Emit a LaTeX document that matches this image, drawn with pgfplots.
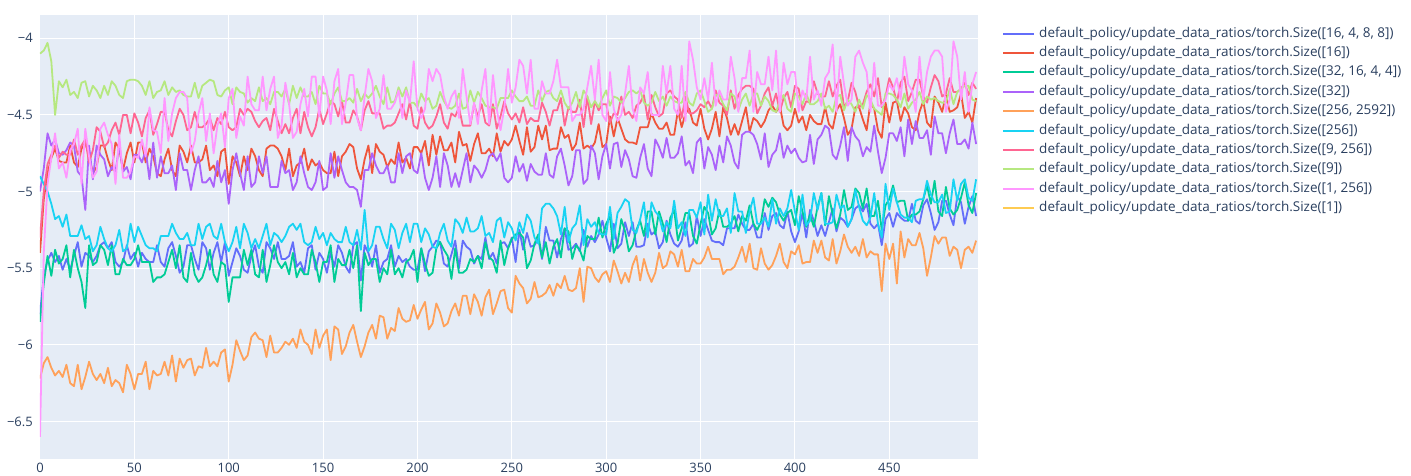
\documentclass[border=0pt]{standalone}
\usepackage{fontspec}
\setmainfont{Open Sans}
\usepackage{pgfplots}
\usepackage{pgfplotstable}
\pgfplotsset{compat=1.18}
\definecolor{bgc}{HTML}{E5ECF6}
\definecolor{txt}{HTML}{2A3F5F}
\definecolor{c1}{HTML}{636EFA}
\definecolor{c2}{HTML}{EF553B}
\definecolor{c3}{HTML}{00CC96}
\definecolor{c4}{HTML}{AB63FA}
\definecolor{c5}{HTML}{FFA15A}
\definecolor{c6}{HTML}{19D3F3}
\definecolor{c7}{HTML}{FF6692}
\definecolor{c8}{HTML}{B6E880}
\definecolor{c9}{HTML}{FF97FF}
\definecolor{c10}{HTML}{FECB52}
\pgfplotstableread{
x b r g p o c m l k
0 -5.80 -5.40 -5.85 -5.00 -6.22 -4.90 -5.30 -4.10 -6.60
2 -5.55 -5.05 -5.60 -4.85 -6.12 -4.95 -5.00 -4.08 -5.40
4 -5.45 -4.88 -5.42 -4.62 -6.08 -5.00 -4.82 -4.03 -4.95
6 -5.40 -4.78 -5.55 -4.70 -6.15 -5.08 -4.76 -4.15 -4.78
8 -5.46 -4.72 -5.38 -4.66 -6.20 -5.18 -4.70 -4.50 -4.62
10 -5.42 -4.80 -5.47 -4.75 -6.17 -5.16 -4.78 -4.28 -4.85
12 -5.51 -4.81 -5.44 -4.76 -6.21 -5.23 -4.74 -4.32 -4.81
14 -5.44 -4.81 -5.35 -4.73 -6.13 -5.15 -4.76 -4.27 -4.91
16 -5.51 -4.70 -5.56 -4.68 -6.25 -5.29 -4.76 -4.37 -4.73
18 -5.42 -4.81 -5.38 -4.70 -6.27 -5.29 -4.66 -4.35 -4.69
20 -5.33 -4.84 -5.50 -4.87 -6.13 -5.29 -4.76 -4.39 -4.59
22 -5.49 -4.72 -5.59 -4.90 -6.29 -5.22 -4.70 -4.29 -4.95
24 -5.40 -4.68 -5.76 -5.12 -6.21 -5.31 -4.66 -4.28 -4.59
26 -5.42 -4.77 -5.35 -4.70 -6.11 -5.29 -4.81 -4.38 -4.77
28 -5.46 -4.88 -5.48 -4.92 -6.19 -5.39 -4.73 -4.31 -4.91
30 -5.42 -4.84 -5.46 -4.70 -6.23 -5.35 -4.58 -4.34 -4.87
32 -5.35 -4.70 -5.35 -4.76 -6.19 -5.23 -4.61 -4.39 -4.59
34 -5.33 -4.70 -5.38 -4.79 -6.25 -5.31 -4.71 -4.31 -4.55
36 -5.37 -4.79 -5.48 -4.90 -6.15 -5.37 -4.68 -4.37 -4.63
38 -5.33 -4.86 -5.35 -4.84 -6.27 -5.39 -4.60 -4.28 -4.69
40 -5.46 -4.68 -5.54 -4.87 -6.23 -5.35 -4.55 -4.31 -4.95
42 -5.49 -4.72 -5.54 -4.70 -6.25 -5.25 -4.63 -4.37 -4.63
44 -5.46 -4.86 -5.44 -4.87 -6.31 -5.39 -4.50 -4.39 -4.91
46 -5.35 -4.75 -5.48 -4.84 -6.13 -5.37 -4.50 -4.28 -4.91
48 -5.44 -4.68 -5.48 -4.92 -6.19 -5.21 -4.62 -4.27 -4.87
50 -5.40 -4.81 -5.44 -4.76 -6.29 -5.33 -4.49 -4.27 -4.77
52 -5.49 -4.68 -5.35 -4.76 -6.19 -5.23 -4.55 -4.28 -4.78
54 -5.40 -4.68 -5.46 -4.81 -6.19 -5.29 -4.64 -4.31 -4.66
56 -5.44 -4.81 -5.46 -4.73 -6.11 -5.35 -4.52 -4.37 -4.77
58 -5.46 -4.72 -5.46 -4.92 -6.29 -5.37 -4.47 -4.28 -4.45
60 -5.46 -4.77 -5.59 -4.68 -6.17 -5.37 -4.63 -4.39 -4.60
62 -5.35 -4.88 -5.56 -4.91 -6.20 -5.39 -4.56 -4.35 -4.61
64 -5.46 -4.90 -5.56 -4.77 -6.19 -5.29 -4.48 -4.34 -4.75
66 -5.49 -4.79 -5.54 -4.88 -6.11 -5.29 -4.48 -4.28 -4.39
68 -5.37 -4.72 -5.46 -4.88 -6.20 -5.29 -4.60 -4.37 -4.67
70 -5.33 -4.86 -5.38 -4.83 -6.07 -5.21 -4.64 -4.32 -4.49
72 -5.42 -4.90 -5.50 -4.99 -6.24 -5.27 -4.54 -4.35 -4.39
74 -5.53 -4.70 -5.35 -4.75 -6.09 -5.31 -4.46 -4.34 -4.35
76 -5.49 -4.74 -5.56 -4.86 -6.15 -5.31 -4.50 -4.37 -4.35
78 -5.35 -4.81 -5.59 -4.86 -6.10 -5.27 -4.60 -4.38 -4.39
80 -5.35 -4.70 -5.40 -4.99 -6.09 -5.35 -4.58 -4.38 -4.75
82 -5.44 -4.81 -5.54 -4.86 -6.20 -5.35 -4.48 -4.29 -4.67
84 -5.51 -4.81 -5.59 -4.77 -6.14 -5.21 -4.58 -4.39 -4.49
86 -5.33 -4.79 -5.56 -4.94 -6.15 -5.31 -4.58 -4.31 -4.39
88 -5.37 -4.70 -5.48 -4.94 -6.02 -5.23 -4.56 -4.29 -4.67
90 -5.51 -4.86 -5.38 -4.91 -6.14 -5.21 -4.52 -4.27 -4.49
92 -5.40 -4.83 -5.54 -4.97 -6.11 -5.29 -4.60 -4.28 -4.75
94 -5.33 -4.90 -5.59 -4.80 -6.14 -5.31 -4.52 -4.37 -4.57
96 -5.46 -4.74 -5.46 -4.94 -6.05 -5.21 -4.56 -4.38 -4.49
98 -5.33 -4.72 -5.48 -4.86 -6.03 -5.33 -4.48 -4.34 -4.71
100 -5.55 -4.95 -5.72 -5.08 -6.24 -5.39 -4.58 -4.32 -4.39
102 -5.46 -4.77 -5.56 -4.86 -6.13 -5.33 -4.60 -4.43 -4.33
104 -5.37 -4.81 -5.56 -4.75 -5.97 -5.23 -4.58 -4.32 -4.65
106 -5.42 -4.90 -5.56 -4.88 -6.04 -5.37 -4.46 -4.35 -4.51
108 -5.51 -4.77 -5.38 -4.99 -6.10 -5.21 -4.50 -4.36 -4.57
110 -5.53 -4.86 -5.48 -4.77 -6.07 -5.27 -4.46 -4.42 -4.25
112 -5.42 -4.72 -5.38 -4.97 -5.95 -5.37 -4.48 -4.39 -4.43
114 -5.35 -4.77 -5.54 -4.94 -5.92 -5.31 -4.54 -4.41 -4.47
116 -5.49 -4.86 -5.56 -4.77 -5.96 -5.37 -4.58 -4.32 -4.47
118 -5.53 -4.90 -5.38 -4.88 -5.97 -5.29 -4.54 -4.41 -4.25
120 -5.33 -4.72 -5.59 -4.77 -6.08 -5.21 -4.52 -4.39 -4.47
122 -5.37 -4.70 -5.48 -4.97 -5.94 -5.35 -4.60 -4.43 -4.33
124 -5.44 -4.70 -5.35 -4.97 -6.05 -5.27 -4.46 -4.35 -4.25
126 -5.33 -4.72 -5.46 -4.97 -6.05 -5.29 -4.54 -4.35 -4.65
128 -5.44 -4.77 -5.50 -4.80 -6.02 -5.33 -4.62 -4.38 -4.57
130 -5.44 -4.86 -5.46 -4.88 -5.98 -5.29 -4.56 -4.33 -4.29
132 -5.42 -4.72 -5.54 -4.86 -6.00 -5.23 -4.62 -4.43 -4.43
134 -5.33 -4.90 -5.40 -4.99 -5.96 -5.21 -4.52 -4.31 -4.65
136 -5.49 -4.83 -5.56 -4.94 -6.02 -5.25 -4.46 -4.39 -4.61
138 -5.46 -4.81 -5.50 -4.77 -5.90 -5.21 -4.62 -4.32 -4.43
140 -5.53 -4.72 -5.54 -4.88 -5.98 -5.33 -4.48 -4.38 -4.33
142 -5.37 -4.86 -5.54 -4.97 -6.00 -5.35 -4.58 -4.38 -4.51
144 -5.35 -4.79 -5.38 -4.99 -6.06 -5.33 -4.64 -4.35 -4.25
146 -5.51 -4.83 -5.46 -4.94 -5.90 -5.23 -4.58 -4.43 -4.25
148 -5.40 -4.81 -5.59 -4.80 -6.02 -5.31 -4.46 -4.31 -4.51
150 -5.44 -4.86 -5.46 -4.99 -5.94 -5.27 -4.56 -4.36 -4.25
152 -5.53 -4.88 -5.46 -4.97 -5.90 -5.35 -4.49 -4.36 -4.34
154 -5.40 -4.88 -5.35 -4.75 -6.10 -5.27 -4.41 -4.43 -4.56
156 -5.49 -4.74 -5.59 -4.91 -5.88 -5.31 -4.43 -4.36 -4.28
158 -5.35 -4.90 -5.44 -4.77 -5.90 -5.33 -4.51 -4.32 -4.20
160 -5.40 -4.77 -5.48 -4.86 -6.06 -5.33 -4.41 -4.41 -4.56
162 -5.49 -4.74 -5.48 -4.94 -6.01 -5.23 -4.55 -4.41 -4.42
164 -5.53 -4.69 -5.38 -4.97 -5.92 -5.33 -4.55 -4.39 -4.24
166 -5.35 -4.71 -5.50 -4.97 -5.87 -5.35 -4.47 -4.42 -4.24
168 -5.33 -4.85 -5.35 -4.99 -5.98 -5.25 -4.51 -4.33 -4.52
170 -5.58 -4.92 -5.78 -5.10 -6.08 -5.38 -4.60 -4.41 -4.60
172 -5.35 -4.79 -5.40 -4.86 -6.01 -5.12 -4.47 -4.36 -4.38
174 -5.40 -4.70 -5.48 -4.86 -5.92 -5.39 -4.41 -4.39 -4.20
176 -5.49 -4.88 -5.44 -4.75 -5.87 -5.35 -4.49 -4.36 -4.28
178 -5.35 -4.69 -5.44 -4.83 -5.96 -5.23 -4.49 -4.31 -4.52
180 -5.53 -4.74 -5.59 -4.88 -5.81 -5.23 -4.49 -4.38 -4.46
182 -5.46 -4.76 -5.50 -4.88 -5.82 -5.31 -4.59 -4.43 -4.24
184 -5.44 -4.84 -5.54 -4.83 -5.96 -5.37 -4.57 -4.32 -4.46
186 -5.35 -4.79 -5.38 -4.94 -5.89 -5.21 -4.57 -4.42 -4.46
188 -5.49 -4.82 -5.54 -4.94 -5.91 -5.25 -4.55 -4.41 -4.42
190 -5.42 -4.68 -5.50 -4.75 -5.76 -5.37 -4.49 -4.32 -4.34
192 -5.46 -4.81 -5.56 -4.88 -5.83 -5.27 -4.43 -4.38 -4.52
194 -5.44 -4.78 -5.46 -4.77 -5.85 -5.21 -4.53 -4.32 -4.34
196 -5.49 -4.85 -5.44 -4.75 -5.84 -5.33 -4.41 -4.42 -4.42
198 -5.51 -4.71 -5.38 -4.86 -5.74 -5.21 -4.57 -4.42 -4.15
200 -5.51 -4.71 -5.59 -4.88 -5.83 -5.21 -4.59 -4.45 -4.46
202 -5.37 -4.75 -5.37 -4.75 -5.77 -5.33 -4.45 -4.36 -4.52
204 -5.52 -4.67 -5.47 -4.91 -5.72 -5.24 -4.55 -4.41 -4.46
206 -5.39 -4.83 -5.55 -4.99 -5.90 -5.28 -4.59 -4.39 -4.20
208 -5.36 -4.63 -5.53 -4.91 -5.86 -5.36 -4.57 -4.46 -4.28
210 -5.32 -4.76 -5.37 -4.77 -5.73 -5.37 -4.51 -4.44 -4.20
212 -5.33 -4.64 -5.33 -4.97 -5.79 -5.27 -4.43 -4.35 -4.24
214 -5.47 -4.73 -5.38 -4.75 -5.88 -5.21 -4.55 -4.41 -4.38
216 -5.49 -4.73 -5.42 -4.83 -5.86 -5.32 -4.59 -4.45 -4.46
218 -5.41 -4.68 -5.57 -4.97 -5.78 -5.36 -4.49 -4.46 -4.38
220 -5.32 -4.81 -5.37 -4.88 -5.73 -5.18 -4.51 -4.44 -4.34
222 -5.50 -4.61 -5.53 -4.97 -5.81 -5.21 -4.45 -4.36 -4.52
224 -5.32 -4.70 -5.53 -4.86 -5.68 -5.27 -4.57 -4.46 -4.20
226 -5.36 -4.69 -5.51 -4.75 -5.68 -5.17 -4.57 -4.45 -4.38
228 -5.38 -4.80 -5.44 -4.94 -5.80 -5.26 -4.57 -4.34 -4.56
230 -5.47 -4.69 -5.46 -4.83 -5.67 -5.26 -4.43 -4.42 -4.42
232 -5.42 -4.62 -5.42 -4.86 -5.72 -5.24 -4.51 -4.35 -4.56
234 -5.44 -4.75 -5.50 -4.91 -5.81 -5.16 -4.43 -4.39 -4.34
236 -5.30 -4.75 -5.33 -4.86 -5.69 -5.29 -4.55 -4.44 -4.20
238 -5.44 -4.72 -5.43 -4.77 -5.64 -5.27 -4.57 -4.45 -4.56
240 -5.40 -4.77 -5.45 -4.75 -5.80 -5.33 -4.43 -4.45 -4.24
242 -5.47 -4.62 -5.53 -4.80 -5.73 -5.19 -4.59 -4.46 -4.46
244 -5.34 -4.74 -5.32 -4.75 -5.65 -5.17 -4.51 -4.39 -4.60
246 -5.33 -4.67 -5.48 -4.91 -5.64 -5.30 -4.41 -4.39 -4.46
248 -5.37 -4.70 -5.37 -4.94 -5.76 -5.20 -4.49 -4.39 -4.20
250 -5.30 -4.66 -5.31 -4.91 -5.79 -5.24 -4.53 -4.34 -4.42
252 -5.46 -4.57 -5.28 -4.77 -5.55 -5.32 -4.49 -4.38 -4.32
254 -5.25 -4.67 -5.27 -4.87 -5.60 -5.20 -4.55 -4.41 -4.14
256 -5.38 -4.76 -5.30 -4.82 -5.63 -5.27 -4.45 -4.41 -4.18
258 -5.27 -4.58 -5.50 -4.93 -5.73 -5.15 -4.56 -4.38 -4.36
260 -5.36 -4.74 -5.45 -4.82 -5.70 -5.19 -4.52 -4.44 -4.14
262 -5.35 -4.71 -5.34 -4.87 -5.59 -5.30 -4.54 -4.44 -4.46
264 -5.31 -4.57 -5.28 -4.89 -5.69 -5.34 -4.54 -4.34 -4.46
266 -5.44 -4.66 -5.43 -4.89 -5.68 -5.11 -4.42 -4.41 -4.28
268 -5.23 -4.57 -5.33 -4.75 -5.66 -5.08 -4.48 -4.35 -4.36
270 -5.32 -4.73 -5.47 -4.89 -5.61 -5.08 -4.57 -4.34 -4.36
272 -5.32 -4.72 -5.36 -4.91 -5.68 -5.11 -4.47 -4.39 -4.28
274 -5.43 -4.72 -5.31 -4.77 -5.60 -5.16 -4.47 -4.41 -4.14
276 -5.31 -4.58 -5.43 -4.72 -5.63 -5.28 -4.39 -4.34 -4.32
278 -5.24 -4.65 -5.24 -4.83 -5.55 -5.10 -4.57 -4.42 -4.32
280 -5.38 -4.63 -5.26 -4.96 -5.64 -5.33 -4.45 -4.46 -4.32
282 -5.37 -4.73 -5.44 -4.90 -5.65 -5.24 -4.48 -4.42 -4.54
284 -5.34 -4.69 -5.35 -4.73 -5.63 -5.21 -4.48 -4.35 -4.50
286 -5.39 -4.55 -5.38 -4.73 -5.50 -5.09 -4.40 -4.45 -4.50
288 -5.25 -4.72 -5.45 -4.95 -5.72 -5.35 -4.58 -4.34 -4.46
290 -5.36 -4.70 -5.29 -4.92 -5.49 -5.18 -4.38 -4.38 -4.32
292 -5.29 -4.72 -5.31 -4.70 -5.50 -5.23 -4.56 -4.45 -4.18
294 -5.33 -4.68 -5.31 -4.75 -5.56 -5.20 -4.41 -4.41 -4.40
296 -5.28 -4.56 -5.17 -4.92 -5.59 -5.27 -4.47 -4.45 -4.14
298 -5.19 -4.71 -5.30 -4.77 -5.54 -5.28 -4.43 -4.39 -4.50
300 -5.30 -4.69 -5.21 -4.69 -5.52 -5.28 -4.43 -4.34 -4.54
302 -5.39 -4.51 -5.16 -4.85 -5.59 -5.10 -4.55 -4.44 -4.22
304 -5.21 -4.64 -5.40 -4.69 -5.45 -5.31 -4.49 -4.38 -4.46
306 -5.37 -4.52 -5.34 -4.68 -5.52 -5.14 -4.50 -4.39 -4.54
308 -5.34 -4.59 -5.18 -4.84 -5.60 -5.10 -4.38 -4.42 -4.50
310 -5.20 -4.66 -5.26 -4.73 -5.53 -5.05 -4.50 -4.39 -4.36
312 -5.29 -4.68 -5.39 -4.79 -5.59 -5.07 -4.48 -4.35 -4.18
314 -5.20 -4.68 -5.35 -4.90 -5.48 -5.25 -4.52 -4.34 -4.46
316 -5.36 -4.69 -5.25 -4.91 -5.42 -5.27 -4.44 -4.36 -4.54
318 -5.36 -4.58 -5.19 -4.78 -5.58 -5.18 -4.42 -4.34 -4.32
320 -5.35 -4.58 -5.29 -4.69 -5.44 -5.07 -4.37 -4.42 -4.36
322 -5.21 -4.58 -5.13 -4.85 -5.53 -5.30 -4.53 -4.44 -4.22
324 -5.28 -4.49 -5.13 -4.90 -5.59 -5.07 -4.37 -4.42 -4.50
326 -5.26 -4.55 -5.28 -4.66 -5.53 -5.13 -4.45 -4.35 -4.50
328 -5.37 -4.59 -5.13 -4.71 -5.40 -5.16 -4.51 -4.41 -4.50
330 -5.33 -4.59 -5.21 -4.78 -5.50 -5.26 -4.49 -4.38 -4.18
332 -5.19 -4.55 -5.33 -4.65 -5.48 -5.20 -4.36 -4.44 -4.36
334 -5.28 -4.63 -5.17 -4.78 -5.39 -5.24 -4.34 -4.38 -4.18
336 -5.34 -4.63 -5.12 -4.78 -5.41 -5.06 -4.38 -4.41 -4.46
338 -5.36 -4.47 -5.32 -4.75 -5.49 -5.24 -4.40 -4.42 -4.50
340 -5.32 -4.58 -5.24 -4.64 -5.38 -5.20 -4.52 -4.42 -4.18
342 -5.20 -4.49 -5.14 -4.83 -5.52 -5.29 -4.38 -4.35 -4.54
344 -5.36 -4.46 -5.14 -4.80 -5.52 -5.12 -4.49 -4.42 -4.02
346 -5.34 -4.55 -5.29 -4.88 -5.44 -5.12 -4.49 -4.44 -4.14
348 -5.16 -4.57 -5.34 -4.68 -5.47 -5.17 -4.47 -4.36 -4.32
350 -5.29 -4.46 -5.21 -4.65 -5.47 -5.07 -4.43 -4.34 -4.40
352 -5.18 -4.59 -5.10 -4.85 -5.43 -5.28 -4.45 -4.41 -4.26
354 -5.25 -4.66 -5.14 -4.71 -5.36 -5.02 -4.41 -4.48 -4.40
356 -5.32 -4.59 -5.28 -4.76 -5.44 -5.19 -4.46 -4.46 -4.16
358 -5.33 -4.48 -5.24 -4.86 -5.44 -5.05 -4.34 -4.37 -4.44
360 -5.33 -4.64 -5.12 -4.70 -5.44 -5.16 -4.42 -4.37 -4.34
362 -5.35 -4.45 -5.23 -4.81 -5.54 -5.16 -4.44 -4.43 -4.40
364 -5.24 -4.52 -5.23 -4.64 -5.51 -5.11 -4.50 -4.47 -4.40
366 -5.24 -4.63 -5.21 -4.70 -5.51 -5.27 -4.34 -4.36 -4.12
368 -5.24 -4.56 -5.16 -4.81 -5.49 -5.01 -4.46 -4.38 -4.26
370 -5.15 -4.63 -5.26 -4.85 -5.43 -5.13 -4.37 -4.47 -4.48
372 -5.21 -4.54 -5.16 -4.63 -5.36 -5.13 -4.33 -4.40 -4.26
374 -5.25 -4.45 -5.19 -4.61 -5.46 -5.27 -4.31 -4.36 -4.26
376 -5.25 -4.61 -5.09 -4.61 -5.34 -5.13 -4.31 -4.44 -4.08
378 -5.21 -4.52 -5.21 -4.63 -5.50 -5.04 -4.33 -4.36 -4.48
380 -5.30 -4.54 -5.25 -4.69 -5.51 -5.21 -4.49 -4.36 -4.22
382 -5.30 -4.58 -5.20 -4.79 -5.37 -5.21 -4.44 -4.44 -4.30
384 -5.14 -4.54 -5.05 -4.62 -5.47 -5.17 -4.36 -4.38 -4.30
386 -5.25 -4.47 -5.10 -4.84 -5.51 -5.23 -4.32 -4.41 -4.12
388 -5.16 -4.44 -5.04 -4.76 -5.48 -5.05 -4.44 -4.47 -4.34
390 -5.14 -4.48 -5.07 -4.73 -5.42 -5.21 -4.36 -4.48 -4.08
392 -5.22 -4.44 -5.15 -4.62 -5.34 -5.11 -4.48 -4.41 -4.48
394 -5.24 -4.57 -5.19 -4.78 -5.46 -5.16 -4.39 -4.37 -4.16
396 -5.13 -4.60 -5.14 -4.70 -5.50 -5.11 -4.35 -4.46 -4.30
398 -5.26 -4.57 -5.12 -4.75 -5.39 -4.99 -4.45 -4.48 -4.22
400 -5.33 -4.46 -5.22 -4.72 -5.41 -5.13 -4.31 -4.36 -4.22
402 -5.26 -4.55 -5.03 -4.78 -5.35 -5.25 -4.33 -4.38 -4.48
404 -5.14 -4.51 -5.13 -4.81 -5.47 -5.02 -4.47 -4.43 -4.34
406 -5.30 -4.60 -5.23 -4.80 -5.46 -5.22 -4.41 -4.36 -4.40
408 -5.12 -4.50 -5.15 -4.63 -5.46 -5.19 -4.42 -4.43 -4.12
410 -5.19 -4.54 -5.23 -4.82 -5.32 -5.01 -4.28 -4.43 -4.40
412 -5.29 -4.56 -5.10 -4.66 -5.40 -5.12 -4.36 -4.41 -4.34
414 -5.22 -4.56 -5.01 -4.63 -5.32 -5.01 -4.38 -4.36 -4.44
416 -5.29 -4.45 -5.22 -4.57 -5.43 -5.21 -4.38 -4.46 -4.26
418 -5.20 -4.56 -5.03 -4.59 -5.45 -5.21 -4.28 -4.44 -4.22
420 -5.11 -4.59 -5.15 -4.76 -5.31 -5.20 -4.38 -4.48 -4.04
422 -5.26 -4.47 -5.24 -4.79 -5.47 -5.02 -4.31 -4.38 -4.48
424 -5.17 -4.43 -5.15 -4.70 -5.39 -5.11 -4.27 -4.37 -4.12
426 -5.19 -4.52 -4.99 -4.58 -5.28 -5.09 -4.45 -4.47 -4.30
428 -5.23 -4.63 -5.12 -4.80 -5.36 -5.23 -4.41 -4.40 -4.44
430 -5.18 -4.59 -5.10 -4.58 -5.40 -5.18 -4.29 -4.43 -4.40
432 -5.11 -4.45 -4.98 -4.64 -5.36 -4.99 -4.35 -4.48 -4.12
434 -5.09 -4.45 -5.01 -4.67 -5.42 -5.10 -4.45 -4.40 -4.08
436 -5.13 -4.53 -5.11 -4.77 -5.31 -5.19 -4.43 -4.46 -4.16
438 -5.08 -4.60 -4.98 -4.71 -5.43 -5.22 -4.35 -4.37 -4.22
440 -5.21 -4.42 -5.16 -4.74 -5.39 -5.17 -4.30 -4.40 -4.48
442 -5.24 -4.46 -5.16 -4.57 -5.41 -5.01 -4.38 -4.46 -4.16
444 -5.21 -4.60 -5.06 -4.74 -5.41 -5.21 -4.26 -4.48 -4.44
446 -5.35 -4.65 -5.25 -4.88 -5.65 -5.30 -4.45 -4.50 -4.44
448 -5.18 -4.42 -5.09 -4.78 -5.34 -4.95 -4.38 -4.36 -4.40
450 -5.14 -4.55 -5.05 -4.62 -5.44 -5.12 -4.26 -4.36 -4.30
452 -5.23 -4.42 -4.96 -4.62 -5.34 -4.98 -4.32 -4.37 -4.34
454 -5.14 -4.41 -5.07 -4.67 -5.60 -5.07 -4.42 -4.40 -4.26
456 -5.17 -4.54 -5.06 -4.58 -5.26 -5.15 -4.29 -4.45 -4.40
458 -5.19 -4.45 -5.06 -4.77 -5.43 -5.17 -4.25 -4.36 -4.12
460 -5.19 -4.49 -5.19 -4.53 -5.31 -5.17 -4.41 -4.46 -4.30
462 -5.08 -4.58 -5.15 -4.69 -5.35 -5.20 -4.35 -4.42 -4.34
464 -5.19 -4.60 -5.15 -4.54 -5.35 -5.06 -4.27 -4.40 -4.48
466 -5.21 -4.48 -5.13 -4.65 -5.27 -5.05 -4.27 -4.35 -4.12
468 -5.09 -4.41 -5.05 -4.65 -5.37 -5.05 -4.38 -4.43 -4.40
470 -5.05 -4.55 -4.96 -4.60 -5.55 -4.93 -4.42 -4.38 -4.22
472 -5.14 -4.58 -5.08 -4.76 -5.43 -5.02 -4.32 -4.40 -4.12
474 -5.25 -4.38 -4.93 -4.51 -5.29 -5.07 -4.24 -4.39 -4.08
476 -5.20 -4.42 -5.13 -4.62 -5.34 -5.07 -4.28 -4.41 -4.08
478 -5.06 -4.48 -5.16 -4.62 -5.30 -5.02 -4.38 -4.42 -4.12
480 -5.06 -4.37 -4.97 -4.75 -5.30 -5.14 -4.36 -4.42 -4.48
482 -5.15 -4.48 -5.11 -4.62 -5.42 -5.13 -4.26 -4.33 -4.40
484 -5.22 -4.47 -5.15 -4.53 -5.36 -4.92 -4.35 -4.43 -4.02
486 -5.03 -4.45 -5.12 -4.69 -5.38 -5.06 -4.35 -4.35 -4.12
488 -5.07 -4.36 -5.04 -4.69 -5.50 -4.95 -4.33 -4.33 -4.40
490 -5.21 -4.52 -4.94 -4.66 -5.38 -4.92 -4.29 -4.31 -4.22
492 -5.10 -4.48 -5.09 -4.72 -5.36 -5.04 -4.37 -4.31 -4.48
494 -5.03 -4.55 -5.14 -4.55 -5.40 -5.06 -4.29 -4.40 -4.30
496 -5.16 -4.39 -5.01 -4.69 -5.32 -4.92 -4.33 -4.41 -4.22
}\data
\begin{document}
\begin{tikzpicture}
\useasboundingbox (-40pt,-17pt) rectangle (1371pt,459pt);
\begin{axis}[
  at={(0pt,0pt)}, anchor=south west,
  scale only axis, width=938pt, height=444pt,
  xmin=0, xmax=497, ymin=-6.745, ymax=-3.848,
  axis background/.style={fill=bgc},
  axis line style={draw=none},
  major tick length=0pt,
  grid=major, grid style={white, line width=1pt},
  xtick={0,50,100,150,200,250,300,350,400,450},
  ytick={-6.5,-6,-5.5,-5,-4.5,-4},
  yticklabels={−6.5,−6,−5.5,−5,−4.5,−4},
  ticklabel style={font=\fontsize{13}{15}\selectfont, text=txt},
  /pgf/number format/assume math mode=true,
  yticklabel style={inner sep=0pt, xshift=-7pt},
  xticklabel style={inner sep=0pt, yshift=-4pt},
  legend style={at={(1.0256,0.973)}, anchor=north west, draw=none, fill=none,
    font=\fontsize{13.5}{15}\selectfont, text=txt, cells={anchor=west},
    row sep=6.4pt, inner sep=0pt,
    nodes={inner xsep=4pt, inner ysep=0pt, text height=10pt, text depth=3pt}},
  legend image code/.code={\draw[#1, line width=2pt] (0pt,0pt) -- (31pt,0pt);},
  every axis plot/.append style={line width=1.8pt, line join=round},
]
\addplot[c1] table[x=x, y=b] {\data};
\addlegendentry{default\_policy/update\_data\_ratios/torch.Size([16, 4, 8, 8])}
\addplot[c2] table[x=x, y=r] {\data};
\addlegendentry{default\_policy/update\_data\_ratios/torch.Size([16])}
\addplot[c3] table[x=x, y=g] {\data};
\addlegendentry{default\_policy/update\_data\_ratios/torch.Size([32, 16, 4, 4])}
\addplot[c4] table[x=x, y=p] {\data};
\addlegendentry{default\_policy/update\_data\_ratios/torch.Size([32])}
\addplot[c5] table[x=x, y=o] {\data};
\addlegendentry{default\_policy/update\_data\_ratios/torch.Size([256, 2592])}
\addplot[c6] table[x=x, y=c] {\data};
\addlegendentry{default\_policy/update\_data\_ratios/torch.Size([256])}
\addplot[c7] table[x=x, y=m] {\data};
\addlegendentry{default\_policy/update\_data\_ratios/torch.Size([9, 256])}
\addplot[c8] table[x=x, y=l] {\data};
\addlegendentry{default\_policy/update\_data\_ratios/torch.Size([9])}
\addplot[c9] table[x=x, y=k] {\data};
\addlegendentry{default\_policy/update\_data\_ratios/torch.Size([1, 256])}
\addlegendimage{c10}
\addlegendentry{default\_policy/update\_data\_ratios/torch.Size([1])}
\end{axis}
\end{tikzpicture}
\end{document}
